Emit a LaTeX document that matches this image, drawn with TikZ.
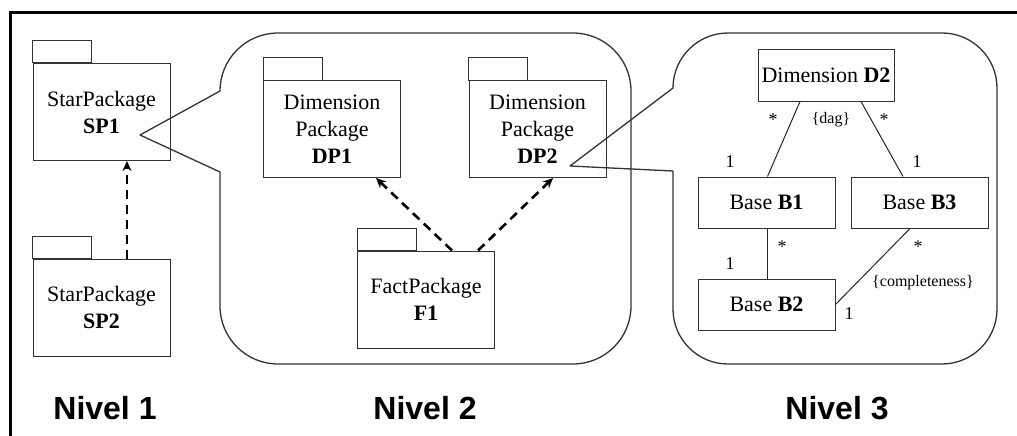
\documentclass[tikz,border=0pt]{standalone}
\usepackage{fontspec}
\setmainfont{Liberation Serif}
\newfontfamily\levelfont{Liberation Sans}
\usetikzlibrary{arrows.meta}

\tikzset{
  shapeline/.style={draw=black!80, line width=1pt},
  bubble/.style={draw=black!80, line width=1.3pt, line join=round},
  pkgbox/.style={shapeline, minimum width=137pt, minimum height=97pt,
    inner sep=0pt, align=center, font=\fontsize{22}{27}\selectfont},
  clsbox/.style={shapeline, minimum width=137pt, minimum height=51pt,
    inner sep=0pt, font=\fontsize{22}{27}\selectfont},
  assoc/.style={draw=black!85, line width=1pt},
  dep/.style={draw=black, line width=2.6pt, dash pattern=on 9pt off 6pt,
    -{Stealth[length=10pt,width=9pt]}},
  mult/.style={inner sep=0pt, font=\fontsize{18}{20}\selectfont},
  constr/.style={inner sep=0pt, font=\fontsize{16}{18}\selectfont},
  level/.style={inner sep=0pt, font=\levelfont\bfseries\fontsize{32}{36}\selectfont},
}
% folder tab on top of a package body
\newcommand\pkgtab[1]{\draw[shapeline] (#1.north west) rectangle ++(59,-22);}

\begin{document}
\begin{tikzpicture}[x=1pt,y=-1pt]
\useasboundingbox (0,0) rectangle (1017,436);

% frame
\draw[line width=3pt] (10,436) -- (10,13) -- (1017,13);

% callout tips
\coordinate (tip1) at (140,135);
\coordinate (tip2) at (570,166);

% level 2 bubble, pointing at SP1
\draw[bubble] (tip1) -- (220,172) -- (220,306)
  arc[start angle=180,end angle=90,radius=58] -- (573,364)
  arc[start angle=90,end angle=0,radius=58] -- (631,91)
  arc[start angle=0,end angle=-90,radius=58] -- (278,33)
  arc[start angle=-90,end angle=-180,radius=58] -- cycle;

% level 3 bubble, pointing at DP2
\draw[bubble] (tip2) -- (673,171) -- (673,309)
  arc[start angle=180,end angle=90,radius=55] -- (942,364)
  arc[start angle=90,end angle=0,radius=55] -- (997,88)
  arc[start angle=0,end angle=-90,radius=55] -- (728,33)
  arc[start angle=-90,end angle=-180,radius=55] -- cycle;

% level 1 packages
\node[pkgbox] (sp1) at (101.5,112) {StarPackage\\\textbf{SP1}};
\node[pkgbox] (sp2) at (101.5,307.5) {StarPackage\\\textbf{SP2}};
\pkgtab{sp1}
\pkgtab{sp2}
\draw[dep] ([xshift=25.5pt]sp2.north) -- ([xshift=25.5pt]sp1.south);

% level 2 packages
\node[pkgbox] (dp1) at (332,129) {Dimension\\Package\\\textbf{DP1}};
\node[pkgbox] (dp2) at (537.5,129) {Dimension\\Package\\\textbf{DP2}};
\node[pkgbox] (f1) at (426,299.5) {FactPackage\\\textbf{F1}};
\pkgtab{dp1}
\pkgtab{dp2}
\pkgtab{f1}
\draw[dep] ([xshift=26pt]f1.north) -- ([xshift=44pt]dp1.south);
\draw[dep] ([xshift=52pt]f1.north) -- ([xshift=15.5pt]dp2.south);

% level 3 classes
\node[clsbox, minimum width=136pt] (d2) at (826,75.5) {Dimension \textbf{D2}};
\node[clsbox] (b1) at (766.5,202.5) {Base \textbf{B1}};
\node[clsbox] (b3) at (919.5,202.5) {Base \textbf{B3}};
\node[clsbox] (b2) at (766.5,304.5) {Base \textbf{B2}};

\draw[assoc] ([xshift=-26pt]d2.south) -- ([xshift=1pt]b1.north);
\draw[assoc] ([xshift=35pt]d2.south) -- ([xshift=-16.5pt]b3.north);
\draw[assoc] ([xshift=0.5pt]b1.south) -- ([xshift=0.5pt]b2.north);
\draw[assoc] ([xshift=-9.5pt]b3.south) -- (b2.east);

% multiplicities and constraints
\node[mult] (m1) at (773,120) {*};
\node[mult] (m2) at (884,120) {*};
\node[constr] (dag) at (831,120) {\{dag\}};
\node[mult] (m3) at (730,162) {1};
\node[mult] (m4) at (917,162) {1};
\node[mult] (m5) at (782,247) {*};
\node[mult] (m6) at (730,264) {1};
\node[mult] (m7) at (918,247) {*};
\node[constr] (compl) at (923,283) {\{completeness\}};
\node[mult] (m8) at (849,314) {1};

% level captions
\node[level] (n1) at (105,408) {Nivel 1};
\node[level] (n2) at (425,408) {Nivel 2};
\node[level] (n3) at (837,408) {Nivel 3};
\end{tikzpicture}
\end{document}
